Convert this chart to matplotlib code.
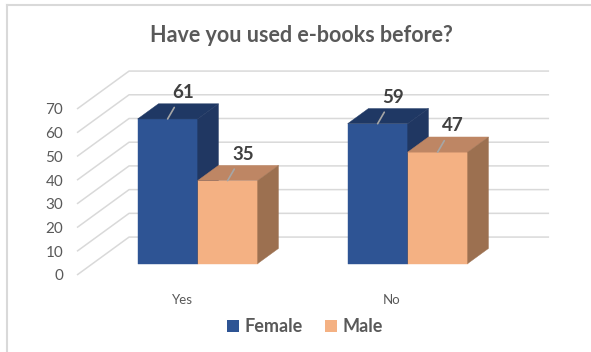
import matplotlib.pyplot as plt
from matplotlib.patches import Polygon
from matplotlib.lines import Line2D

plt.rcParams['font.family'] = ['Lato', 'DejaVu Sans']

title = "Have you used e-books before?"
categories = ["Yes", "No"]
series_names = ["Female", "Male"]
female = [61, 59]
male = [35, 47]
y_ticks = [0, 10, 20, 30, 40, 50, 60, 70]

# colours: front, top, side
colors = {
    "Female": ("#2E5494", "#1F3864", "#203762"),
    "Male": ("#F4B183", "#BE8664", "#9C7050"),
}

# oblique projection: full depth shift in data units
DX = 0.248
DY = 16.0
D0, D1 = 0.3, 0.7
bar_w = 0.2857


def proj(x, y, d):
    return (x + d * DX, y + d * DY)


W, H = 591, 352
fig = plt.figure(figsize=(W / 100, H / 100), dpi=100)
ax = fig.add_axes([77 / W, (H - 275) / H, 420 / W, 166 / H])
ax.set_xlim(-0.5, 1.5)
ax.set_ylim(0, 70)
for s in ax.spines.values():
    s.set_visible(False)
ax.patch.set_visible(False)

grid_c = "#D9D9D9"
for v in y_ticks:
    xa, ya = proj(-0.5, v, 0)
    xb, yb = proj(-0.5, v, 1)
    xc, yc = proj(1.5, v, 1)
    ax.plot([xa, xb, xc], [ya, yb, yc], color=grid_c, lw=1.1,
            clip_on=False, zorder=1, solid_capstyle="butt")


def draw_bar(xl, v, cols):
    xr = xl + bar_w
    front = [proj(xl, 0, D0), proj(xr, 0, D0), proj(xr, v, D0), proj(xl, v, D0)]
    top = [proj(xl, v, D0), proj(xr, v, D0), proj(xr, v, D1), proj(xl, v, D1)]
    side = [proj(xr, 0, D0), proj(xr, 0, D1), proj(xr, v, D1), proj(xr, v, D0)]
    for pts, c in ((front, cols[0]), (top, cols[1]), (side, cols[2])):
        ax.add_patch(Polygon(pts, closed=True, facecolor=c, edgecolor=c,
                             lw=0.3, clip_on=False, zorder=2))
    # data label with leader line
    cx, cy = proj(xl + bar_w / 2, v, D0)
    ax.annotate(str(v), xy=(cx, cy), xytext=(11, 19), textcoords="offset points",
                ha="center", va="center", fontsize=13.5, fontweight="bold",
                color="#404040", annotation_clip=False, zorder=3,
                arrowprops=dict(arrowstyle="-", color="#A6A6A6", lw=1.2,
                                shrinkA=3, shrinkB=0))


for i in range(len(categories)):
    draw_bar(i - bar_w, female[i], colors["Female"])
    draw_bar(i, male[i], colors["Male"])

ax.set_yticks(y_ticks)
ax.set_yticklabels([str(t) for t in y_ticks])
ax.set_xticks(range(len(categories)))
ax.set_xticklabels(categories)
ax.tick_params(axis="y", length=0, pad=10, labelsize=11, labelcolor="#595959")
ax.tick_params(axis="x", length=0, pad=14, labelsize=9.5, labelcolor="#595959")

fig.text(301 / W, 1 - 35 / H, title, ha="center", va="center", fontsize=15.5,
         fontweight="bold", color="#595959")

handles = [Polygon([[0, 0]], facecolor=colors[n][0], edgecolor="none") for n in series_names]
fig.legend(handles, series_names, loc="center", bbox_to_anchor=(305 / W, 1 - 327 / H),
           ncol=2, frameon=False, handlelength=0.65, handleheight=0.65, handletextpad=0.35,
           columnspacing=1.2, prop=dict(size=13, weight="bold"), labelcolor="#595959")

fig.add_artist(Line2D([7 / W, 1], [1 - 5 / H, 1 - 5 / H], color=grid_c, lw=1.5,
                      transform=fig.transFigure))
fig.add_artist(Line2D([7 / W, 7 / W], [0, 1 - 5 / H], color=grid_c, lw=1.5,
                      transform=fig.transFigure))

fig.savefig("out.png", dpi=100)
